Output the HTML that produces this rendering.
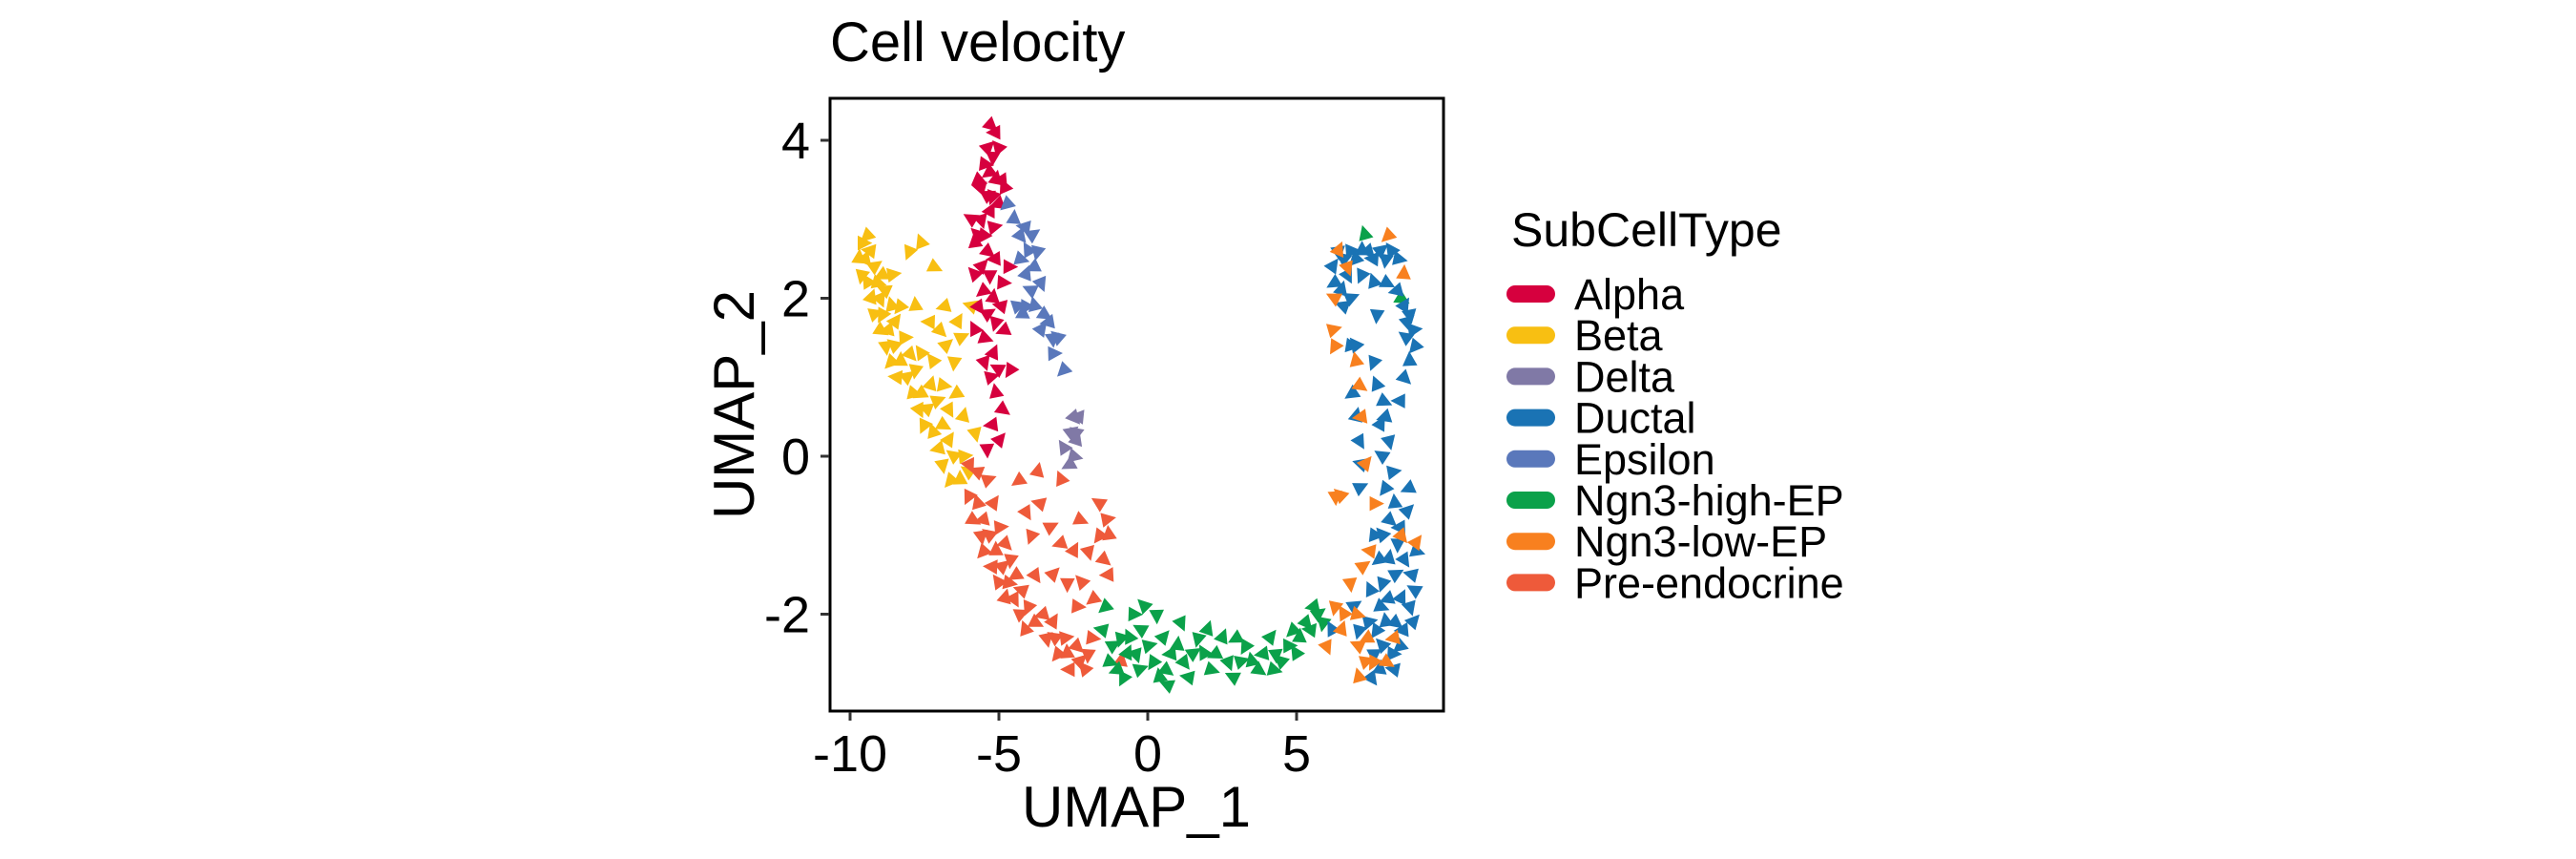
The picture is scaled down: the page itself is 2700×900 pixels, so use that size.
<!DOCTYPE html>
<html><head><meta charset="utf-8"><style>
body{margin:0;background:#fff}
svg{display:block;font-family:"Liberation Sans",Arial,sans-serif}
</style></head><body>
<svg id="chart" width="2700" height="900" viewBox="0 0 2700 900" xmlns="http://www.w3.org/2000/svg">
<rect width="2700" height="900" fill="#fff"/>
<text x="870" y="64" font-size="58">Cell velocity</text>
<g id="marks"></g>
<rect x="870" y="103" width="643" height="642" fill="none" stroke="#000" stroke-width="3"/>
<g id="axes"></g>
<text x="1191" y="866" font-size="60" text-anchor="middle">UMAP_1</text>
<text transform="translate(790,424) rotate(-90)" font-size="60" text-anchor="middle">UMAP_2</text>
<text x="1584" y="258" font-size="50">SubCellType</text>
<g id="legend"></g>
</svg>
<script>
const categories=["Alpha","Beta","Delta","Ductal","Epsilon","Ngn3-high-EP","Ngn3-low-EP","Pre-endocrine"];
const colors=["#D6003E","#F8BF12","#8079A6","#1A73B4","#5A78BB","#0BA14A","#F8801F","#EE5A3A"];
const xTicks=[-10,-5,0,5];
const yTicks=[-2,0,2,4];
const alphaPts=[[-5.3,4.2],[-5.1,4.1],[-5.4,3.9],[-5.2,3.8],[-5.0,3.9],[-5.5,3.7],[-5.3,3.6],[-5.1,3.5],[-4.9,3.5],[-5.6,3.4],[-5.4,3.3],[-5.2,3.3],[-4.8,3.4],[-5.7,3.5],[-5.0,3.2],[-5.3,3.1],[-5.6,3.0],[-5.9,3.0],[-5.2,2.9],[-5.5,2.8],[-5.8,2.7],[-5.4,2.6],[-5.1,2.5],[-5.6,2.4],[-5.3,2.3],[-5.8,2.3],[-4.9,2.2],[-5.5,2.1],[-5.2,2.0],[-5.7,1.9],[-4.9,1.9],[-5.4,1.8],[-5.1,1.7],[-5.8,1.6],[-5.5,1.5],[-4.8,1.6],[-5.2,1.3],[-5.5,1.2],[-5.0,1.1],[-5.3,1.0],[-4.6,1.1],[-5.1,0.8],[-4.9,0.6],[-5.2,0.4],[-5.0,0.2],[-5.4,0.1],[-5.7,2.8],[-4.7,2.4]];
const betaPts=[[-9.6,2.7],[-9.4,2.8],[-9.7,2.5],[-9.5,2.5],[-9.3,2.6],[-9.2,2.4],[-9.6,2.3],[-9.4,2.2],[-9.1,2.2],[-8.9,2.3],[-9.3,2.0],[-9.0,2.0],[-8.8,2.1],[-9.2,1.8],[-8.9,1.8],[-8.6,1.9],[-9.0,1.6],[-8.7,1.6],[-8.5,1.7],[-8.8,1.4],[-8.5,1.4],[-8.2,1.5],[-8.6,1.2],[-8.3,1.2],[-8.0,1.3],[-8.4,1.0],[-8.1,1.0],[-7.8,1.1],[-7.6,1.3],[-7.9,0.8],[-7.6,0.8],[-7.3,0.9],[-7.7,0.6],[-7.4,0.6],[-7.1,0.7],[-7.5,0.4],[-7.2,0.3],[-6.9,0.4],[-7.0,0.1],[-6.7,0.2],[-6.9,-0.1],[-6.5,0.0],[-6.2,0.0],[-6.6,-0.3],[-6.3,-0.3],[-7.0,1.6],[-7.3,1.7],[-6.8,1.4],[-6.5,1.2],[-7.2,1.2],[-6.9,0.9],[-6.4,0.8],[-6.2,0.5],[-6.7,0.6],[-5.9,1.9],[-6.3,1.5],[-8.0,2.6],[-7.6,2.7],[-7.2,2.4],[-6.8,1.9],[-6.4,1.7],[-5.8,0.3],[-6.0,-0.2],[-8.6,2.3],[-8.3,1.9],[-7.8,1.9]];
const deltaPts=[[-2.5,0.5],[-2.3,0.5],[-2.6,0.3],[-2.4,0.3],[-2.8,0.1],[-2.5,0.0],[-2.6,-0.1],[-2.4,0.2]];
const ductalPts=[[6.2,2.4],[6.4,2.6],[6.6,2.5],[6.8,2.6],[7.0,2.5],[7.2,2.6],[7.4,2.6],[7.6,2.5],[7.8,2.6],[8.0,2.5],[8.2,2.6],[8.4,2.5],[6.3,2.2],[6.5,2.1],[6.7,2.3],[6.6,1.9],[6.8,2.0],[7.2,2.3],[7.6,2.2],[8.0,2.2],[8.4,2.1],[8.6,1.9],[8.8,1.8],[8.7,1.5],[8.9,1.6],[9.0,1.4],[8.8,1.2],[8.6,1.0],[8.5,0.7],[8.7,1.7],[7.7,1.8],[7.0,1.4],[6.8,1.4],[6.9,0.8],[7.0,0.5],[7.1,0.2],[7.2,-0.1],[7.1,-0.4],[7.6,1.2],[7.7,0.9],[7.9,0.7],[8.0,0.5],[7.8,0.4],[8.1,0.2],[7.9,0.0],[8.2,-0.2],[8.0,-0.4],[8.3,-0.6],[8.1,-0.8],[8.5,-0.9],[8.7,-0.7],[8.4,-1.1],[7.9,-1.0],[7.6,-1.0],[7.8,-1.3],[8.1,-1.3],[8.6,-1.3],[8.9,-1.5],[8.3,-1.5],[7.9,-1.6],[7.5,-1.7],[7.8,-1.9],[8.1,-1.8],[8.5,-1.8],[8.8,-1.9],[9.0,-1.7],[7.4,-2.1],[7.7,-2.2],[8.0,-2.1],[8.3,-2.1],[8.6,-2.2],[8.9,-2.1],[7.6,-2.5],[7.9,-2.4],[8.2,-2.5],[8.5,-2.4],[7.8,-2.7],[7.5,-2.8],[8.3,-2.7],[6.9,-1.9],[7.1,-2.2],[6.2,-2.2],[9.0,-1.2],[8.8,-0.4]];
const epsilonPts=[[-4.7,3.2],[-4.5,3.0],[-4.3,2.8],[-4.1,2.9],[-3.9,2.8],[-3.7,2.6],[-4.0,2.6],[-4.3,2.5],[-3.8,2.4],[-4.1,2.3],[-3.6,2.2],[-3.9,2.1],[-4.4,1.9],[-4.1,1.9],[-3.8,1.9],[-3.5,1.8],[-3.3,1.7],[-3.6,1.6],[-3.2,1.5],[-3.0,1.5],[-3.2,1.3],[-2.8,1.1],[-4.2,1.8]];
const ngnHighPts=[[-1.5,-2.2],[-1.2,-2.4],[-0.9,-2.3],[-0.6,-2.3],[-1.3,-2.6],[-1.0,-2.7],[-0.7,-2.5],[-0.4,-2.5],[-0.2,-2.2],[0.0,-2.4],[0.2,-2.6],[0.4,-2.8],[0.6,-2.7],[0.8,-2.5],[0.5,-2.3],[0.3,-2.0],[-0.1,-1.9],[-0.5,-2.0],[-1.4,-1.9],[1.0,-2.4],[1.2,-2.6],[1.4,-2.8],[1.5,-2.5],[1.7,-2.3],[1.9,-2.5],[2.1,-2.7],[2.3,-2.5],[2.5,-2.3],[2.7,-2.6],[2.9,-2.8],[3.1,-2.6],[3.3,-2.4],[3.5,-2.6],[3.7,-2.7],[3.9,-2.5],[4.1,-2.3],[4.3,-2.5],[4.5,-2.6],[4.7,-2.4],[4.9,-2.2],[5.1,-2.3],[5.3,-2.1],[5.5,-2.2],[5.7,-2.0],[5.9,-2.1],[5.0,-2.5],[4.2,-2.7],[3.0,-2.3],[2.0,-2.2],[1.1,-2.1],[0.7,-2.9],[-0.3,-2.7],[-0.8,-2.8],[7.3,2.8],[8.5,2.0],[5.6,-1.9]];
const ngnLowPts=[[6.4,2.6],[6.7,2.4],[6.3,2.0],[6.2,1.6],[6.3,1.4],[7.0,1.2],[7.1,0.9],[7.2,0.5],[7.3,-0.1],[6.3,-0.5],[6.5,-0.5],[7.6,-0.6],[8.1,2.8],[8.6,2.3],[8.5,-1.0],[7.5,-1.2],[7.2,-1.4],[6.3,-1.9],[6.6,-2.0],[7.0,-2.0],[7.4,-2.3],[6.5,-2.2],[6.0,-2.4],[7.1,-2.4],[7.3,-2.6],[7.6,-2.6],[7.1,-2.8],[8.0,-2.6],[8.3,-2.3],[9.0,-1.1],[6.8,-1.6]];
const preEndoPts=[[-6.0,-0.1],[-5.7,-0.2],[-5.4,-0.3],[-6.0,-0.5],[-5.7,-0.6],[-5.9,-0.8],[-5.5,-0.8],[-5.2,-0.6],[-5.6,-1.0],[-5.3,-1.0],[-5.0,-0.9],[-5.5,-1.2],[-5.1,-1.2],[-4.8,-1.1],[-5.2,-1.4],[-4.9,-1.4],[-4.6,-1.3],[-5.0,-1.6],[-4.7,-1.6],[-4.4,-1.5],[-4.8,-1.8],[-4.5,-1.8],[-4.2,-1.7],[-4.3,-2.0],[-4.0,-1.9],[-4.1,-2.2],[-3.8,-2.1],[-3.5,-2.0],[-3.2,-2.1],[-3.4,-2.3],[-3.1,-2.3],[-2.8,-2.3],[-3.0,-2.5],[-2.7,-2.5],[-2.4,-2.4],[-2.6,-2.7],[-2.3,-2.6],[-2.0,-2.5],[-2.1,-2.7],[-1.9,-2.3],[-4.3,-0.3],[-3.7,-0.2],[-4.1,-0.7],[-3.6,-0.6],[-3.3,-0.9],[-3.9,-1.0],[-2.9,-0.3],[-2.3,-0.8],[-2.9,-1.1],[-2.5,-1.2],[-2.0,-1.2],[-1.6,-0.6],[-1.4,-0.8],[-1.6,-1.0],[-1.3,-1.0],[-1.5,-1.3],[-1.3,-1.5],[-3.2,-1.5],[-2.7,-1.6],[-2.2,-1.6],[-2.4,-1.9],[-1.8,-1.8],[-0.9,-2.6],[-3.8,-1.5]];
const seriesPts=[alphaPts,betaPts,deltaPts,ductalPts,epsilonPts,ngnHighPts,ngnLowPts,preEndoPts];
const drawOrder=[1,0,4,2,7,5,3,6];

const NS="http://www.w3.org/2000/svg";
const sx=v=>1203+31.2*v;
const sy=v=>478-82.75*v;
const marks=document.getElementById('marks');
let k=0;
drawOrder.forEach(ci=>{
  seriesPts[ci].forEach((p,i)=>{
    const cx=sx(p[0]),cy=sy(p[1]);
    const a=((k*137)%360)*Math.PI/180;k++;
    const r=9,pts=[];
    for(let j=0;j<3;j++){const t=a+j*2*Math.PI/3;const rr=j===0?r*1.2:r;pts.push((cx+rr*Math.cos(t)).toFixed(1)+','+(cy+rr*Math.sin(t)).toFixed(1));}
    const el=document.createElementNS(NS,'polygon');
    el.setAttribute('points',pts.join(' '));
    el.setAttribute('fill',colors[ci]);
    
    
    marks.appendChild(el);
  });
});
const axes=document.getElementById('axes');
xTicks.forEach(t=>{
  const l=document.createElementNS(NS,'line');
  l.setAttribute('x1',sx(t));l.setAttribute('x2',sx(t));l.setAttribute('y1',746);l.setAttribute('y2',755);
  l.setAttribute('stroke','#333');l.setAttribute('stroke-width','3');
  
  
  axes.appendChild(l);
  const tx=document.createElementNS(NS,'text');
  tx.setAttribute('x',sx(t));tx.setAttribute('y',808);tx.setAttribute('font-size','54');tx.setAttribute('text-anchor','middle');
  tx.textContent=t;
  
  
  axes.appendChild(tx);
});
yTicks.forEach(t=>{
  const l=document.createElementNS(NS,'line');
  l.setAttribute('x1',860);l.setAttribute('x2',869);l.setAttribute('y1',sy(t));l.setAttribute('y2',sy(t));
  l.setAttribute('stroke','#333');l.setAttribute('stroke-width','3');
  
  
  axes.appendChild(l);
  const tx=document.createElementNS(NS,'text');
  tx.setAttribute('x',849);tx.setAttribute('y',sy(t)+19);tx.setAttribute('font-size','54');tx.setAttribute('text-anchor','end');
  tx.textContent=t;
  
  
  axes.appendChild(tx);
});
const legend=document.getElementById('legend');
categories.forEach((c,i)=>{
  const y=308+43.2*i;
  const r=document.createElementNS(NS,'rect');
  r.setAttribute('x',1579);r.setAttribute('y',y-9);r.setAttribute('width',51);r.setAttribute('height',18);r.setAttribute('rx',9);
  r.setAttribute('fill',colors[i]);
  
  
  legend.appendChild(r);
  const t=document.createElementNS(NS,'text');
  t.setAttribute('x',1650);t.setAttribute('y',y+16);t.setAttribute('font-size','45');
  t.textContent=c;
  
  
  legend.appendChild(t);
});
</script>
</body></html>
